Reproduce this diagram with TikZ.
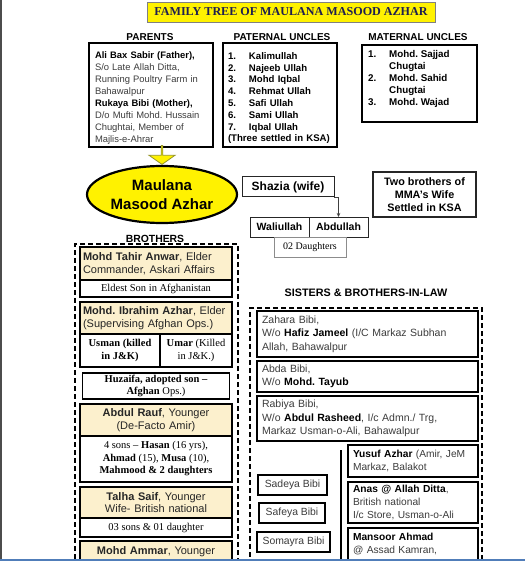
\documentclass[tikz,border=0pt]{standalone}
\usepackage{fontspec}
\setmainfont{Liberation Sans}
\newfontfamily\tmsfont{Liberation Serif}
\usepackage{xcolor}
\usepackage{tikz}
\usetikzlibrary{shapes.geometric, shapes.arrows, arrows.meta, positioning}

\definecolor{tanfill}{RGB}{252,240,205}
\definecolor{titleblue}{RGB}{30,30,80}
\definecolor{greytext}{RGB}{60,60,60}
\definecolor{olivedge}{RGB}{150,150,40}
\definecolor{edgeblue}{RGB}{80,125,185}

\newcommand{\numitem}[2]{\makebox[21pt][l]{#1}#2}
\newcommand{\boldname}[1]{\textcolor{black}{\textbf{#1}}}
\frenchspacing

\begin{document}
\begin{tikzpicture}[
    x=1pt, y=-1pt,
    >=Stealth,
    boxsize/.style 2 args={minimum width=#1, minimum height=#2},
    headnode/.style={font=\bfseries\fontsize{10}{12}\selectfont},
    listbox/.style={rectangle, draw=black, line width=1.8pt, anchor=north west, outer sep=0pt, inner xsep=6pt, inner ysep=0pt, align=left, text=greytext, font=\fontsize{9.4}{12}\selectfont},
    listtext/.style={inner sep=0pt, align=left, font=\bfseries\fontsize{9.8}{12}\selectfont},
    tanbox/.style={rectangle, draw=black, line width=1.4pt, fill=tanfill, anchor=north west, outer sep=0pt, inner xsep=3pt, inner ysep=0pt, minimum width=152pt, text width=146pt, align=center, text=black!85, font=\fontsize{11}{12.8}\selectfont},
    subbox/.style={rectangle, draw=black, line width=1.4pt, fill=white, anchor=north, outer sep=0pt, inner xsep=3pt, inner ysep=0pt, align=center, font=\tmsfont\fontsize{10.5}{12.5}\selectfont},
    sisbox/.style={rectangle, draw=black, line width=1.4pt, anchor=north west, outer sep=0pt, inner xsep=5pt, inner ysep=0pt, align=left, text=greytext, font=\fontsize{10.5}{13.5}\selectfont},
    inlawbox/.style={sisbox, minimum width=130pt, text width=120pt, font=\fontsize{10.2}{13}\selectfont},
    namebox/.style={rectangle, draw=black, line width=1.2pt, anchor=north west, outer sep=0pt, inner sep=0pt, text=greytext, font=\fontsize{10.4}{12}\selectfont},
    dashframe/.style={rectangle, draw=black, line width=1.8pt, dash pattern=on 5pt off 3pt, anchor=north west, outer sep=0pt},
    kidbox/.style={rectangle, draw=black!85, line width=1pt, outer sep=0pt, inner sep=0pt, font=\bfseries\fontsize{10.5}{12}\selectfont}
  ]

  \useasboundingbox (0,0) rectangle (525,561);
  \fill[white] (0,0) rectangle (525,561);
  \clip (0,0) rectangle (525,561);

  % Title
  \node[draw=black!50, line width=0.6pt, fill=yellow, boxsize={288pt}{20pt}, inner sep=0pt, text=titleblue, font=\tmsfont\bfseries\fontsize{12.1}{13}\selectfont] (title) at (291,12) {FAMILY TREE OF MAULANA MASOOD AZHAR};

  % Parents and uncles
  \node[headnode] (parentshead) at (150,37) {PARENTS};
  \node[headnode] (paternalhead) at (282,37) {PATERNAL UNCLES};
  \node[headnode] (maternalhead) at (418,37) {MATERNAL UNCLES};

  \node[listbox, boxsize={124pt}{104pt}, text width=112pt] (parents) at (89,43) {\rule{0pt}{12pt}\boldname{Ali Bax Sabir (Father),}\\S/o Late Allah Ditta,\\Running Poultry Farm in\\Bahawalpur\\\boldname{Rukaya Bibi (Mother),}\\D/o Mufti Mohd. Hussain\\Chughtai, Member of\\Majlis-e-Ahrar};

  \node[listbox, boxsize={114pt}{104pt}, text width=104pt, inner xsep=5pt, text=black, font=\bfseries\fontsize{9.6}{11.8}\selectfont] (paternal) at (223,43) {\rule{0pt}{13pt}\numitem{1.}{Kalimullah}\\\numitem{2.}{Najeeb Ullah}\\\numitem{3.}{Mohd Iqbal}\\\numitem{4.}{Rehmat Ullah}\\\numitem{5.}{Safi Ullah}\\\numitem{6.}{Sami Ullah}\\\numitem{7.}{Iqbal Ullah}\\(Three settled in KSA)};

  \node[listbox, boxsize={115pt}{77pt}] (maternal) at (362,45) {};
  \node[listtext, below right=5pt and 6pt of maternal.north west] (maternallist) {\numitem{1.}{Mohd. Sajjad}\\\numitem{}{Chugtai}\\\numitem{2.}{Mohd. Sahid}\\\numitem{}{Chugtai}\\\numitem{3.}{Mohd. Wajad}};

  % Maulana and his family
  \node[ellipse, draw=black, line width=2.2pt, fill=yellow, boxsize={150pt}{57pt}, inner sep=0pt, align=center, font=\bfseries\fontsize{15}{19}\selectfont] (mma) at (162,194.5) {Maulana\\Masood Azhar};
  \node[single arrow, draw=olivedge, fill=yellow, line width=0.8pt, shape border rotate=270, minimum height=19pt, minimum width=26pt, single arrow head extend=6.5pt, single arrow tip angle=110, inner sep=0pt, anchor=tip] (downarrow) at (mma.north) {};

  \node[kidbox, boxsize={92pt}{20pt}, font=\bfseries\fontsize{12}{14}\selectfont] (shazia) at (288,187) {Shazia (wife)};
  \node[kidbox, boxsize={103pt}{45pt}, line width=1.4pt, align=center, font=\bfseries\fontsize{10.8}{13}\selectfont] (wifebros) at (424.5,194.5) {Two brothers of\\MMA's Wife\\Settled in KSA};
  \node[kidbox, boxsize={59pt}{20pt}] (waliullah) at (279.5,227) {Waliullah};
  \node[kidbox, boxsize={59pt}{20pt}, right=0pt of waliullah] (abdullah) {Abdullah};
  \node[kidbox, draw=black!45, line width=0.7pt, boxsize={72pt}{20pt}, font=\tmsfont\fontsize{10}{12}\selectfont] (daughters) at (310,247) {02 Daughters};
  \draw[-{Stealth[length=4pt, width=3.5pt]}, black!75, line width=0.8pt] (shazia.south east) -| (abdullah.north);

  % Brothers
  \node[headnode, font=\bfseries\fontsize{10.4}{12}\selectfont] (broshead) at (155,239) {BROTHERS};
  \node[dashframe, boxsize={163pt}{340pt}] (brosframe) at (75,244) {};

  \node[tanbox, boxsize={152pt}{33pt}, align=left] (tahir) at (80,247) {\textbf{Mohd Tahir Anwar}, Elder\\Commander, Askari Affairs};
  \node[subbox, boxsize={152pt}{17pt}, below=0pt of tahir] (tahirson) {Eldest Son in Afghanistan};
  \node[tanbox, boxsize={152pt}{32pt}, align=left, below=5pt of tahirson] (ibrahim) {\textbf{Mohd. Ibrahim Azhar}, Elder\\(Supervising Afghan Ops.)};
  \node[subbox, boxsize={80pt}{33pt}, anchor=north west] (usman) at (ibrahim.south west) {\textbf{Usman (killed}\\\textbf{in J\&K)}};
  \node[subbox, boxsize={72pt}{33pt}, right=0pt of usman] (umar) {\textbf{Umar} (Killed\\in J\&K.)};
  \node[subbox, boxsize={147pt}{26pt}] (huzaifa) at (156,373) {\textbf{Huzaifa, adopted son –}\\\textbf{Afghan} Ops.)};
  \node[tanbox, boxsize={152pt}{32pt}, below=5pt of huzaifa] (rauf) {\textbf{Abdul Rauf}, Younger\\(De-Facto Amir)};
  \node[subbox, boxsize={152pt}{46pt}, below=0pt of rauf] (raufkids) {4 sons – \textbf{Hasan} (16 yrs),\\\textbf{Ahmad} (15), \textbf{Musa} (10),\\\textbf{Mahmood \& 2 daughters}};
  \node[tanbox, boxsize={152pt}{31pt}, below=5pt of raufkids] (talha) {\textbf{Talha Saif}, Younger\\Wife- British national};
  \node[subbox, boxsize={152pt}{19pt}, below=0pt of talha] (talhakids) {03 sons \& 01 daughter};
  \node[tanbox, boxsize={152pt}{22pt}, below=4pt of talhakids] (ammar) {\textbf{Mohd Ammar}, Younger};

  % Sisters and brothers-in-law
  \node[headnode, font=\bfseries\fontsize{10.8}{12}\selectfont] (sishead) at (366,293) {SISTERS \& BROTHERS-IN-LAW};
  \node[dashframe, boxsize={232pt}{300pt}] (sisframe) at (250,308) {};

  \node[sisbox, boxsize={221pt}{46pt}, text width=211pt] (zahara) at (257,311) {Zahara Bibi,\\W/o \boldname{Hafiz Jameel} (I/C Markaz Subhan\\Allah, Bahawalpur};
  \node[sisbox, boxsize={221pt}{31pt}, text width=211pt, below=4pt of zahara] (abda) {Abda Bibi,\\W/o \boldname{Mohd. Tayub}};
  \node[sisbox, boxsize={221pt}{45pt}, text width=211pt, below=4pt of abda] (rabiya) {Rabiya Bibi,\\W/o \boldname{Abdul Rasheed}, I/c Admn./ Trg,\\Markaz Usman-o-Ali, Bahawalpur};

  \node[namebox, boxsize={69pt}{20pt}] (sadeya) at (258,475) {Sadeya Bibi};
  \node[namebox, boxsize={66pt}{20pt}] (safeya) at (259,503) {Safeya Bibi};
  \node[namebox, boxsize={73pt}{20pt}] (somayra) at (257,532) {Somayra Bibi};

  \coordinate (divtop) at (341,450);
  \draw[line width=1.4pt] (divtop) -- ++(0,130);

  \node[inlawbox, boxsize={130pt}{32pt}] (yusuf) at (348,445) {\boldname{Yusuf Azhar} (Amir, JeM\\Markaz, Balakot};
  \node[inlawbox, boxsize={130pt}{41pt}, below=5pt of yusuf] (anas) {\boldname{Anas @ Allah Ditta},\\British national\\I/c Store, Usman-o-Ali};
  \node[inlawbox, boxsize={130pt}{33pt}, below=5pt of anas] (mansoor) {\boldname{Mansoor Ahmad}\\@ Assad Kamran,};

  % Screen edges
  \draw[black!70, line width=1.5pt] (0.75,0) -- (0.75,561);
  \draw[edgeblue, line width=2.5pt] (0,559.8) -- (525,559.8);

\end{tikzpicture}
\end{document}
